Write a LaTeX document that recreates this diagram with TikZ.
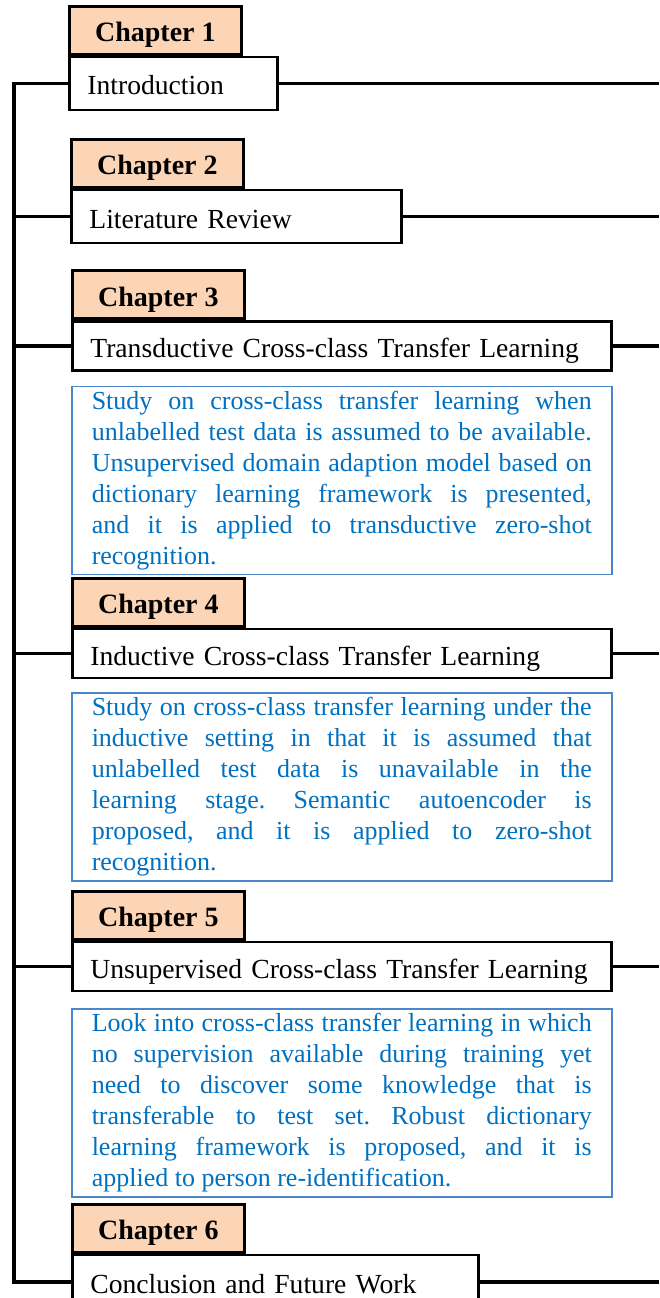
\documentclass[tikz,border=0pt]{standalone}
\usepackage{fontspec}
\setmainfont{Liberation Serif}
\usetikzlibrary{positioning}
\definecolor{tabfill}{HTML}{FBD5B5}
\definecolor{desctext}{HTML}{0070C0}
\definecolor{descline}{HTML}{4A86C8}
\frenchspacing

\begin{document}
\begin{tikzpicture}[x=1pt,y=1pt,
	title/.style={draw, line width=2.8pt, fill=white, anchor=west, inner xsep=18pt, inner ysep=0pt, minimum height=49pt, text height=23pt, text depth=0pt, align=left, font=\fontsize{27.6}{33}\selectfont},
	tab/.style={draw, line width=2.8pt, fill=tabfill, minimum width=172pt, minimum height=48pt, inner sep=0pt, text height=23pt, text depth=0pt, font=\bfseries\fontsize{28}{33}\selectfont},
	desc/.style={draw=descline, line width=1.5pt, text=desctext, text width=500pt, inner xsep=20pt, inner ysep=4.5pt, align=justify, font=\fontsize{26}{31}\selectfont},
	link/.style={line width=3.2pt}]
\useasboundingbox (0,0) rectangle (659,-1298);
\coordinate (spine) at (14,0);
\coordinate (edge) at (659,0);

% chapter titles
\node[title, text width=172pt, minimum height=53pt] (t1) at (68,-83.5) {Introduction};
\node[title, text width=294pt, minimum height=53pt] (t2) at (70,-216.5) {Literature Review};
\node[title, text width=503pt] (t3) at (71,-346) {Transductive Cross-class Transfer Learning};
\node[title, text width=503pt] (t4) at (71,-653.5) {Inductive Cross-class Transfer Learning};
\node[title, text width=503pt] (t5) at (71,-966.5) {Unsupervised Cross-class Transfer Learning};
\node[title, text width=370pt, minimum height=54pt] (t6) at (71,-1282) {Conclusion and Future Work};

% tabs
\foreach \i in {1,...,6}
	\node[tab, above right=0pt of t\i.north west, anchor=south west] (c\i) {Chapter \i};

% summaries
\node[desc, below=14pt of t3.south west, anchor=north west] (d3) {Study on cross-class transfer learning when\linebreak unlabelled test data is assumed to be available.\linebreak Unsupervised domain adaption model based on\linebreak dictionary learning framework is presented,\linebreak and it is applied to transductive zero-shot\linebreak recognition.};
\node[desc, below=13pt of t4.south west, anchor=north west] (d4) {Study on cross-class transfer learning under the\linebreak inductive setting in that it is assumed that\linebreak unlabelled test data is unavailable in the\linebreak learning stage. Semantic autoencoder is\linebreak proposed, and it is applied to zero-shot\linebreak recognition.};
\node[desc, below=16pt of t5.south west, anchor=north west] (d5) {Look into cross-class transfer learning in which\linebreak no supervision available during training yet\linebreak need to discover some knowledge that is\linebreak transferable to test set. Robust dictionary\linebreak learning framework is proposed, and it is\linebreak applied to person re-identification.};

% connectors
\draw[link] (t1.west) -- (t1.west -| spine) -- (t6.west -| spine) -- (t6.west);
\foreach \i in {2,...,5}
	\draw[link] (t\i.west) -- (t\i.west -| spine);
\foreach \i in {1,...,6}
	\draw[link] (t\i.east) -- (t\i.east -| edge);
\end{tikzpicture}
\end{document}
